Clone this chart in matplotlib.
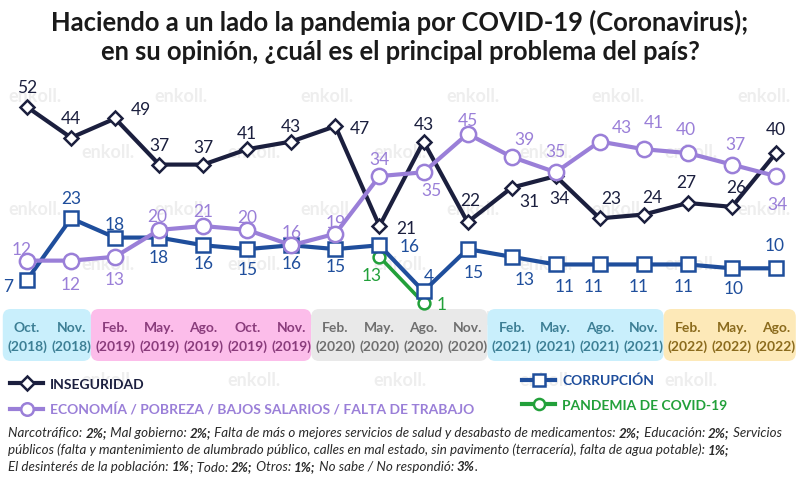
import numpy as np
import matplotlib
matplotlib.use("Agg")
import matplotlib.pyplot as plt
from matplotlib.patches import FancyBboxPatch
from matplotlib.transforms import IdentityTransform, blended_transform_factory
from matplotlib.lines import Line2D

# --- data ---
months = ["Oct.", "Nov.", "Feb.", "May.", "Ago.", "Oct.", "Nov.", "Feb.", "May.",
          "Ago.", "Nov.", "Feb.", "May.", "Ago.", "Nov.", "Feb.", "May.", "Ago."]
years = ["(2018)"] * 2 + ["(2019)"] * 5 + ["(2020)"] * 4 + ["(2021)"] * 4 + ["(2022)"] * 3

inseguridad = [52, 44, 49, 37, 37, 41, 43, 47, 21, 43, 22, 31, 34, 23, 24, 27, 26, 40]
economia = [12, 12, 13, 20, 21, 20, 16, 19, 34, 35, 45, 39, 35, 43, 41, 40, 37, 34]
corrupcion = [7, 23, 18, 18, 16, 15, 16, 15, 16, 4, 15, 13, 11, 11, 11, 11, 10, 10]
pandemia = [np.nan] * 8 + [13, 1] + [np.nan] * 8

# label offsets in pixels (dx right, dy down)
off_ins = [(0, -20), (0, -20), (26, -9), (0, -20), (0, -18), (0, -16), (0, -16), (24, 2),
           (27, 2), (0, -18), (3, -22), (18, 13), (4, 22), (12, -20), (8, -18), (-2, -21),
           (4, -20), (0, -24)]
off_eco = [(-5, -12), (0, 23), (0, 22), (-2, -14), (0, -15), (0, -13), (0, -13), (0, -12),
           (0, -17), (8, 18), (0, -14), (13, -18), (0, -21), (22, -15), (10, -27), (-2, -24),
           (4, -21), (1, 28)]
off_cor = [(-19, 6), (0, -20), (0, -14), (0, 19), (0, 18), (0, 20), (0, 18), (0, 17),
           (30, 1), (5, -15), (6, 23), (13, 22), (9, 22), (-6, 22), (-5, 22), (-4, 22),
           (2, 20), (-1, -23)]
off_pan = {8: (-8, 18), 9: (18, 1)}

# period bands: first index, last index, fill, text colour
bands = [(0, 1, "#c9effc", "#3d7f95"),
         (2, 6, "#fcbdea", "#8a3c7c"),
         (7, 10, "#e9e9e9", "#6f6f6f"),
         (11, 14, "#c9effc", "#3d7f95"),
         (15, 17, "#fde9b8", "#8b6b1d")]

C_INS = "#1b1f3e"
C_ECO = "#9a7fd8"
C_COR = "#1f4e9c"
C_PAN = "#22a03a"

W, H = 800, 481
FONT = "Lato"

fig = plt.figure(figsize=(8, 4.81), dpi=100)
ax = fig.add_axes([0, 0, 1, 1])
ax.set_xlim(-0.613, 17.545)
ax.set_ylim(-45.1, 80.1)
ax.axis("off")
ident = IdentityTransform()
xpx = blended_transform_factory(ax.transData, ident)

# watermarks
for r, ypos in enumerate([97, 153, 210, 265, 320, 381]):
    xs = [35, 181, 327, 473, 618, 764] if r % 2 == 0 else [108, 254, 400, 546, 691]
    for xw in xs:
        ax.text(xw, H - ypos, "enkoll.", transform=ident, fontsize=13, color="#eeeeee",
                ha="center", va="center", family=FONT, fontweight="bold", zorder=0)

# title
fig.text(0.5, 1 - 22 / H, "Haciendo a un lado la pandemia por COVID-19 (Coronavirus);",
         ha="center", va="center", fontsize=18.4, fontweight="bold", family=FONT, color="#1a1a1a")
fig.text(0.5, 1 - 52 / H, "en su opinión, ¿cuál es el principal problema del país?",
         ha="center", va="center", fontsize=18.4, fontweight="bold", family=FONT, color="#1a1a1a")

# bands with month / year labels
for a, b, fill, tc in bands:
    x0 = ax.transData.transform((a - 0.55, 0))[0]
    x1 = ax.transData.transform((b + 0.45, 0))[0]
    ax.add_patch(FancyBboxPatch((x0, H - 362), x1 - x0, 52,
                                boxstyle="round,pad=0,rounding_size=8",
                                transform=ident, facecolor=fill, edgecolor="none", zorder=1))
    for i in range(a, b + 1):
        ax.text(i, H - 328, months[i], transform=xpx, ha="center", va="center",
                fontsize=10, fontweight="bold", color=tc, family=FONT, zorder=2)
        ax.text(i, H - 347, years[i], transform=xpx, ha="center", va="center",
                fontsize=10, fontweight="bold", color=tc, family=FONT, zorder=2)

x = np.arange(len(months))
ax.plot(x, pandemia, color=C_PAN, lw=2.6, marker="o", ms=8.5, mfc="white", mec=C_PAN,
        mew=1.8, zorder=3)
ax.plot(x, corrupcion, color=C_COR, lw=3, marker="s", ms=9.5, mfc="white", mec=C_COR,
        mew=1.8, zorder=4)
ax.plot(x, inseguridad, color=C_INS, lw=3, marker="D", ms=7.5, mfc="white", mec=C_INS,
        mew=1.8, zorder=5)
ax.plot(x, economia, color=C_ECO, lw=3, marker="o", ms=11, mfc="white", mec=C_ECO,
        mew=1.8, zorder=6)


def labels(vals, offs, color):
    for i, v in enumerate(vals):
        if np.isnan(v):
            continue
        dx, dy = offs[i]
        ax.annotate(f"{int(v)}", (i, v), xytext=(dx, -dy), textcoords="offset pixels",
                    ha="center", va="center", fontsize=12.5, color=color, family=FONT,
                    zorder=7)


labels(inseguridad, off_ins, C_INS)
labels(economia, off_eco, C_ECO)
labels(corrupcion, off_cor, C_COR)
labels([pandemia[i] if i in off_pan else np.nan for i in range(len(x))],
       {i: off_pan.get(i, (0, 0)) for i in range(len(x))}, C_PAN)

# legends
def handle(color, marker, ms):
    return Line2D([], [], color=color, lw=3, marker=marker, ms=ms, mfc="white",
                  mec=color, mew=1.8)


leg_kw = dict(frameon=False, borderpad=0, borderaxespad=0, handlelength=2.4,
              handletextpad=0.5, labelspacing=0.9,
              prop=dict(family=FONT, weight="bold", size=10))
leg1 = ax.legend([handle(C_INS, "D", 7), handle(C_ECO, "o", 9)],
                 ["INSEGURIDAD", "ECONOMÍA / POBREZA / BAJOS SALARIOS / FALTA DE TRABAJO"],
                 loc="upper left", bbox_to_anchor=(10 / W, 1 - 379 / H),
                 bbox_transform=fig.transFigure, **leg_kw)
for t, c in zip(leg1.get_texts(), [C_INS, C_ECO]):
    t.set_color(c)
ax.add_artist(leg1)
leg2 = ax.legend([handle(C_COR, "s", 8), handle(C_PAN, "o", 8)],
                 ["CORRUPCIÓN", "PANDEMIA DE COVID-19"],
                 loc="upper left", bbox_to_anchor=(522 / W, 1 - 375 / H),
                 bbox_transform=fig.transFigure, **leg_kw)
for t, c in zip(leg2.get_texts(), [C_COR, C_PAN]):
    t.set_color(c)

# footnote with bold percentages
notes = [
    [("Narcotráfico: ", "normal"), ("2%;", "bold"), (" Mal gobierno: ", "normal"), ("2%;", "bold"),
     (" Falta de más o mejores servicios de salud y desabasto de medicamentos: ", "normal"),
     ("2%;", "bold"), (" Educación: ", "normal"), ("2%;", "bold"), (" Servicios", "normal")],
    [("públicos (falta y mantenimiento de alumbrado público, calles en mal estado, sin pavimento "
      "(terracería), falta de agua potable): ", "normal"), ("1%;", "bold")],
    [("El desinterés de la población: ", "normal"), ("1%", "bold"), ("; Todo: ", "normal"),
     ("2%;", "bold"), (" Otros: ", "normal"), ("1%;", "bold"),
     (" No sabe / No respondió: ", "normal"), ("3%", "bold"), (".", "normal")],
]
for k, parts in enumerate(notes):
    ypos = H - (433 + 17 * k)
    prev = None
    for txt, wt in parts:
        kw = dict(fontsize=9.6, style="italic", weight=wt, family=FONT, color="#2a2a2a",
                  va="center", ha="left", zorder=7)
        if prev is None:
            prev = ax.text(8, ypos, txt, transform=ident, **kw)
        else:
            prev = ax.annotate(txt, xy=(1, 0.5), xycoords=prev, xytext=(0, 0),
                               textcoords="offset points", **kw)

fig.savefig("out.png", dpi=100)
